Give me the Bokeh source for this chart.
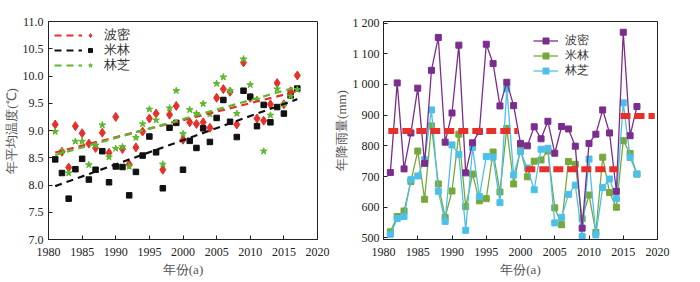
import numpy as np
from bokeh.plotting import figure
from bokeh.layouts import row
from bokeh.models import (FixedTicker, PrintfTickFormatter, Legend, LegendItem,
                          Range1d, ColumnDataSource)
from bokeh.embed import file_html
from bokeh.resources import INLINE

# ---------------- data ----------------
years = list(range(1981, 2018))
station_names = ["波密", "米林", "林芝"]

temp_bomi = [9.11, 8.61, 8.32, 9.08, 8.95, 8.76, 8.68, 8.96, 8.59, 9.25,
             8.66, 8.38, 8.69, 8.98, 9.22, 9.31, 8.28, 9.29, 9.45, 8.83,
             9.15, 9.12, 9.15, 9.05, 9.60, 9.76, 9.71, 9.11, 10.25, 9.60,
             9.22, 9.18, 9.48, 9.87, 9.48, 9.72, 10.01]
temp_milin = [8.47, 8.22, 7.75, 8.29, 8.48, 8.10, 8.28, 8.62, 8.05, 8.34,
              8.33, 7.81, 8.24, 8.54, 8.89, 8.60, 7.94, 9.05, 9.14, 8.28,
              8.81, 8.68, 9.04, 8.79, 9.23, 9.56, 9.16, 8.88, 9.73, 9.62,
              9.08, 9.47, 9.15, 9.43, 9.31, 9.64, 9.77]
temp_linzhi = [8.98, 8.62, 8.22, 8.80, 8.80, 8.37, 8.73, 9.10, 8.51, 8.67,
               8.70, 8.34, 8.87, 9.12, 9.39, 9.19, 8.38, 9.41, 9.73, 8.94,
               9.38, 9.31, 9.49, 9.30, 9.86, 9.98, 9.73, 9.31, 10.31, 9.84,
               9.57, 8.62, 9.28, 9.76, 9.48, 9.63, 9.75]

rain_bomi = [713, 1005, 725, 842, 988, 743, 1046, 1153, 812, 907,
             1128, 712, 810, 847, 1131, 1068, 930, 1007, 931, 808,
             800, 862, 823, 880, 776, 863, 855, 799, 532, 808,
             838, 917, 842, 652, 1170, 833, 928]
rain_milin = [520, 570, 588, 684, 783, 626, 865, 676, 567, 653,
              838, 602, 708, 621, 628, 780, 650, 857, 676, 789,
              699, 750, 754, 783, 598, 543, 749, 740, 563, 640,
              518, 763, 648, 600, 817, 775, 708]
rain_linzhi = [512, 563, 570, 690, 702, 755, 917, 652, 554, 803,
               772, 525, 795, 635, 765, 763, 615, 986, 705, 782,
               728, 657, 789, 792, 549, 567, 642, 672, 505, 757,
               510, 664, 692, 628, 940, 762, 708]

mean_start = [1980.7, 2000.7, 2014.6]
mean_end = [1999.6, 2014.2, 2019.6]
mean_value = [848, 724, 897]

temp_ticks = [7.0, 7.5, 8.0, 8.5, 9.0, 9.5, 10.0, 10.5, 11.0]
rain_ticks = [500, 600, 700, 800, 900, 1000, 1100, 1200]
rain_tick_labels = ["500", "600", "700", "800", "900", "1 000", "1 100", "1 200"]
year_ticks = [1980, 1985, 1990, 1995, 2000, 2005, 2010, 2015, 2020]

# ---------------- style ----------------
FONT = "Liberation Serif"
RED = "#e8302a"
BLACK = "#111111"
LGREEN = "#5cb82e"
PURPLE = "#7b2d8e"
GREEN = "#77a83b"
CYAN = "#4dc0ea"
H = 282


def style(p, ylabel, y_standoff):
    p.xaxis.axis_label = "年份(a)"
    p.yaxis.axis_label = ylabel
    p.xgrid.grid_line_color = None
    p.ygrid.grid_line_color = None
    p.outline_line_color = "#222222"
    p.outline_line_width = 1
    p.xaxis.ticker = FixedTicker(ticks=year_ticks)
    for ax in (p.xaxis[0], p.yaxis[0]):
        ax.major_tick_in = 4
        ax.major_tick_out = 0
        ax.minor_tick_line_color = None
        ax.axis_line_color = "#222222"
        ax.major_tick_line_color = "#222222"
        ax.major_label_text_font = FONT
        ax.major_label_text_font_size = "12px"
        ax.major_label_text_color = "#222222"
        ax.axis_label_text_font = FONT
        ax.axis_label_text_font_size = "13px"
        ax.axis_label_text_font_style = "normal"
        ax.axis_label_text_color = "#555555"
    p.xaxis.major_label_standoff = 8
    p.xaxis.axis_label_standoff = 3
    p.yaxis.major_label_standoff = y_standoff
    p.yaxis.axis_label_standoff = 1


def one_legend(p, label, rends, x, y, gw, standoff, fs="13px", gh=18):
    leg = Legend(items=[LegendItem(label=label, renderers=rends)],
                 location=(x, y), glyph_width=gw, glyph_height=gh,
                 label_height=gh, label_standoff=standoff,
                 spacing=0, padding=0, margin=0, border_line_alpha=0,
                 background_fill_alpha=0, label_text_font=FONT,
                 label_text_font_size=fs, label_text_color="#333333")
    p.add_layout(leg)


# ---------------- left: temperature ----------------
p1 = figure(width=330, height=H, output_backend="svg", toolbar_location=None,
            x_range=Range1d(1980, 2020), y_range=Range1d(7.0, 11.0),
            min_border_left=38, min_border_right=13, min_border_top=21,
            min_border_bottom=43)
style(p1, "年平均温度(℃)", 5)
p1.yaxis.ticker = FixedTicker(ticks=temp_ticks)
p1.yaxis.formatter = PrintfTickFormatter(format="%.1f")

temp_series = [(temp_bomi, RED, "diamond", 9),
               (temp_milin, BLACK, "square", 5.5),
               (temp_linzhi, LGREEN, "star", 7)]
scat_r, line_r = [], []
for vals, col, mk, sz in temp_series:
    scat_r.append(p1.scatter(years, vals, marker=mk, size=sz, color=col))
for vals, col, mk, sz in temp_series:
    fit = np.polyfit(years, vals, 1)
    xs = [years[0], years[-1]]
    ys = list(np.polyval(fit, xs))
    line_r.append(p1.line(xs, ys, line_color=col, line_width=2.2,
                          line_dash="7 5"))

left_rows_y = [195, 180, 165]
for name, lr, sr, yy in zip(station_names, line_r, scat_r, left_rows_y):
    one_legend(p1, " ", [lr], 6, yy, 28, 0)
    one_legend(p1, name, [sr], 37, yy, 10, 9)

# ---------------- right: precipitation ----------------
p2 = figure(width=354, height=H, output_backend="svg", toolbar_location=None,
            x_range=Range1d(1980, 2020), y_range=Range1d(495, 1205),
            min_border_left=47, min_border_right=27, min_border_top=21,
            min_border_bottom=43)
style(p2, "年降雨量(mm)", 4)
p2.yaxis.ticker = FixedTicker(ticks=rain_ticks)
p2.yaxis.major_label_overrides = {t: s for t, s in zip(rain_ticks, rain_tick_labels)}

rain_series = [(rain_bomi, PURPLE), (rain_milin, GREEN), (rain_linzhi, CYAN)]
items = {}
for idx in (1, 2, 0):
    vals, col = rain_series[idx]
    ln = p2.line(years, vals, line_color=col, line_width=1.3)
    sc = p2.scatter(years, vals, marker="square", size=6, color=col)
    items[idx] = [ln, sc]

mean_src = ColumnDataSource(dict(x0=mean_start, x1=mean_end, y=mean_value))
p2.segment(x0="x0", y0="y", x1="x1", y1="y", source=mean_src,
           line_color=RED, line_width=6, line_dash="10 4", line_cap="butt")

right_rows_y = [190, 175, 160]
for i, yy in enumerate(right_rows_y):
    one_legend(p2, station_names[i], items[i], 150, yy, 25, 7, fs="12px", gh=15)

layout = row(p1, p2)
open("out.html", "w").write(file_html(layout, INLINE))
